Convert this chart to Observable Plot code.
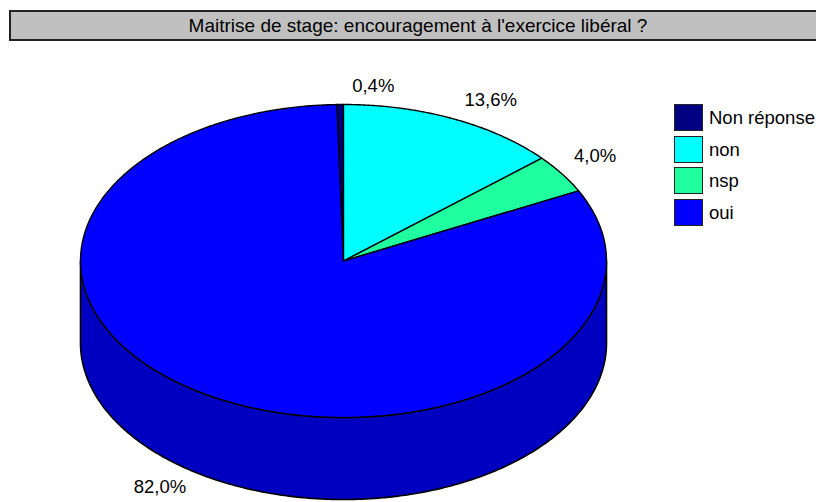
<!DOCTYPE html>
<html>
<head>
<meta charset="utf-8">
<script src="https://cdn.jsdelivr.net/npm/d3@7"></script>
<script src="https://cdn.jsdelivr.net/npm/@observablehq/plot@0.6"></script>
<style>
  html, body { margin: 0; padding: 0; background: #fff; overflow: hidden; }
  #wrap { position: relative; width: 816px; height: 502px; font-family: "Liberation Sans", Arial, sans-serif; }
  #chart { position: absolute; left: 0; top: 0; }
  #title { position: absolute; left: 9px; top: 10px; width: 814px; height: 27px; background: #c0c0c0;
           border: 2px solid #222; font-size: 19px; line-height: 27px; text-align: center; color: #000; white-space: nowrap; }
  #legend { position: absolute; left: 674px; top: 104px; font-size: 18.5px; color: #000; white-space: nowrap; }
  .item { position: relative; height: 31.5px; }
  .sw { position: absolute; left: 0; top: 0; width: 27px; height: 25px; border: 1px solid #222; }
  .lab { position: absolute; left: 35px; top: 0; line-height: 27px; }
</style>
</head>
<body>
<div id="wrap">
  <div id="chart"></div>
  <div id="title">Maitrise de stage: encouragement à l'exercice libéral ?</div>
  <div id="legend"></div>
</div>
<script>
// ---- data ----
const categories = ["Non réponse", "non", "nsp", "oui"];
const values = [0.4, 13.6, 4.0, 82.0];
const labels = ["0,4%", "13,6%", "4,0%", "82,0%"];
const colors = ["#000080", "#00ffff", "#20ffa0", "#0000ff"];

// ---- layout constants ----
const depth = 0.524;          // thickness of the 3D pie, in y-radius units
const step = 0.5;             // degrees per arc sample

const total = d3.sum(values);
// the second slice ("non") starts at 12 o'clock, as in the reference
let acc = -values[0];
const slices = categories.map((c, i) => {
  const a0 = acc / total * 360;
  acc += values[i];
  const a1 = acc / total * 360;
  return {cat: c, value: values[i], label: labels[i], color: colors[i], a0, a1, mid: (a0 + a1) / 2};
});

const rad = (a) => a * Math.PI / 180;
const pt = (a, lvl = 0) => ({x: Math.sin(rad(a)), y: Math.cos(rad(a)) - lvl});

function arcPts(a0, a1, lvl = 0) {
  const pts = [];
  const n = Math.max(2, Math.ceil(Math.abs(a1 - a0) / step));
  for (let k = 0; k <= n; k++) pts.push(pt(a0 + (a1 - a0) * k / n, lvl));
  return pts;
}

const marks = [];
// side walls (front half: 90..270 degrees)
for (const s of slices) {
  const lo = Math.max(s.a0, 90), hi = Math.min(s.a1, 270);
  if (hi <= lo) continue;
  const pts = [...arcPts(lo, hi, 0), ...arcPts(hi, lo, depth)];
  marks.push(Plot.line(pts, {x: "x", y: "y", curve: "linear-closed",
    fill: d3.color(s.color).darker(0.8).formatHex(), stroke: "black", strokeWidth: 1.6, strokeLinejoin: "round"}));
}
// top faces
for (const s of slices) {
  const pts = [{x: 0, y: 0}, ...arcPts(s.a0, s.a1, 0)];
  marks.push(Plot.line(pts, {x: "x", y: "y", curve: "linear-closed",
    fill: s.color, stroke: "black", strokeWidth: 1.4, strokeLinejoin: "round"}));
}
// labels
const labelPts = slices.map(s => {
  const lower = Math.cos(rad(s.mid)) < 0;
  const p = pt(s.mid, lower ? depth : 0);
  return {...p, label: s.label, lower};
});
marks.push(Plot.text(labelPts.filter(d => !d.lower), {x: "x", y: "y", text: "label",
  textAnchor: "start", dx: 12, dy: -18, fontSize: 18.5, fill: "black"}));
marks.push(Plot.text(labelPts.filter(d => d.lower), {x: "x", y: "y", text: "label",
  textAnchor: "end", dx: -22, dy: 10, fontSize: 18.5, fill: "black"}));

const chart = Plot.plot({
  width: 816, height: 502,
  margin: 0,
  style: {fontFamily: "'Liberation Sans', Arial, sans-serif", background: "white", overflow: "visible"},
  x: {type: "linear", domain: [-1, 1], range: [80, 606], axis: null},
  y: {type: "linear", domain: [-1, 1], range: [417, 104], axis: null},
  marks
});
document.getElementById("chart").appendChild(chart);

// legend
const lg = document.getElementById("legend");
categories.forEach((c, i) => {
  const it = document.createElement("div");
  it.className = "item";
  it.innerHTML = `<div class="sw" style="background:${colors[i]}"></div><div class="lab"></div>`;
  it.querySelector(".lab").textContent = c;
  lg.appendChild(it);
});
</script>
</body>
</html>
